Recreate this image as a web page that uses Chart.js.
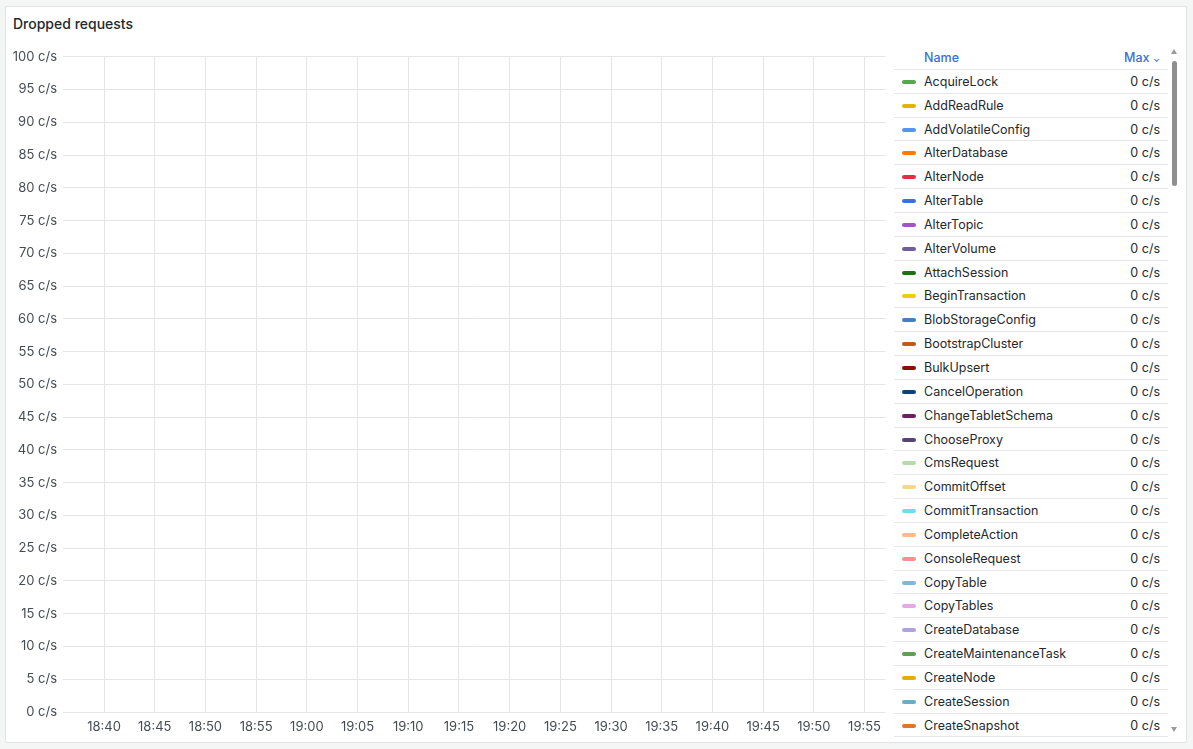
<!DOCTYPE html>
<html>
<head>
<meta charset="utf-8">
<script src="https://cdn.jsdelivr.net/npm/chart.js@4.4.1/dist/chart.umd.min.js"></script>
<style>
  html, body { margin:0; padding:0; background:#f4f5f5; font-family: Inter, "Noto Sans", sans-serif; }
  #panel { position:absolute; left:5px; top:6px; width:1180px; height:735px; background:#fff; border:1px solid #e2e3e6; border-radius:2px; }
  #title { position:absolute; left:7px; top:8px; font-size:14px; font-weight:500; color:#24292e; }
  #chartBox { position:absolute; left:0px; top:36px; width:882px; height:699px; }
  #legend { position:absolute; left:888px; top:39px; width:274px; height:692px; overflow:hidden; font-size:12.5px; color:#24292e; }
  .row { position:relative; height:23.85px; border-bottom:1px solid #e6e7e9; box-sizing:border-box; }
  .row .sw { position:absolute; left:8px; top:10px; width:14px; height:4px; border-radius:2px; }
  .row .nm { position:absolute; left:30px; top:0; line-height:23px; white-space:nowrap; }
  .row .vl { position:absolute; right:8px; top:0; line-height:23px; }
  .hdr { color:#3a6fd8; font-weight:500; }
  #sbThumb { position:absolute; left:1166px; top:54px; width:5px; height:125px; background:#8f8f8f; border-radius:3px; }
  .arrow { position:absolute; left:1165px; width:0; height:0; border-left:3.5px solid transparent; border-right:3.5px solid transparent; }
</style>
</head>
<body>
<div id="panel">
  <div id="title">Dropped requests</div>
  <div id="chartBox"><canvas id="c"></canvas></div>
  <div id="legend"></div>
  <div class="arrow" style="top:42px;border-bottom:5px solid #9a9a9a;"></div>
  <div id="sbThumb"></div>
  <div class="arrow" style="top:720px;border-top:5px solid #9a9a9a;"></div>
</div>
<script>
// ---- data ----
const seriesNames = ["AcquireLock","AddReadRule","AddVolatileConfig","AlterDatabase","AlterNode","AlterTable","AlterTopic","AlterVolume","AttachSession","BeginTransaction","BlobStorageConfig","BootstrapCluster","BulkUpsert","CancelOperation","ChangeTabletSchema","ChooseProxy","CmsRequest","CommitOffset","CommitTransaction","CompleteAction","ConsoleRequest","CopyTable","CopyTables","CreateDatabase","CreateMaintenanceTask","CreateNode","CreateSession","CreateSnapshot"];
const seriesColors = ["#56a64b","#e0b400","#5794f2","#ff780a","#e02f44","#3274d9","#a352cc","#705da0","#19730e","#f2cc0c","#447ebc","#c15c17","#890f02","#0a437c","#6d1f62","#584477","#b7dbab","#f4d598","#70dbed","#f9ba8f","#f29191","#82b5d8","#e5a8e2","#aea2e0","#629e51","#e5ac0e","#64b0c8","#e0752d"];
const seriesMax = [0,0,0,0,0,0,0,0,0,0,0,0,0,0,0,0,0,0,0,0,0,0,0,0,0,0,0,0];
const seriesValues = seriesNames.map(() => []); // no samples drawn in the visible range
const xTickLabels = ["18:40","18:45","18:50","18:55","19:00","19:05","19:10","19:15","19:20","19:25","19:30","19:35","19:40","19:45","19:50","19:55"];
const xRange = ["18:35:57","19:57:04"];
const yMin = 0, yMax = 100, yStep = 5;
const unit = "c/s";

function toMin(s){ const p = s.split(':').map(Number); return p[0]*60 + p[1] + (p[2]||0)/60; }
function fmt(m){ const h = Math.floor(m/60), mm = Math.round(m - h*60); return String(h).padStart(2,'0') + ':' + String(mm).padStart(2,'0'); }

// legend
const lg = document.getElementById('legend');
let html = '<div class="row hdr"><span class="nm">Name</span><span class="vl">Max <span style="font-size:9px">&#8964;</span></span></div>';
seriesNames.forEach((n,i) => {
  html += '<div class="row"><span class="sw" style="background:'+seriesColors[i]+'"></span><span class="nm">'+n+'</span><span class="vl">'+seriesMax[i]+' '+unit+'</span></div>';
});
lg.innerHTML = html;

const tickVals = xTickLabels.map(toMin);
new Chart(document.getElementById('c'), {
  type: 'line',
  data: {
    datasets: seriesNames.map((n,i) => ({ label:n, data: seriesValues[i], borderColor: seriesColors[i], backgroundColor: seriesColors[i], pointRadius:0, borderWidth:1 }))
  },
  options: {
    responsive:true, maintainAspectRatio:false, animation:false,
    layout: { padding: { top: 12, right: 0, left: 0, bottom: 0 } },
    plugins: { legend: { display:false }, tooltip: { enabled:false } },
    scales: {
      x: {
        type:'linear', min: toMin(xRange[0]), max: toMin(xRange[1]),
        afterBuildTicks: s => { s.ticks = tickVals.map(v => ({ value: v })); },
        afterFit: s => { s.height = 30; },
        ticks: { callback: v => fmt(v), color:'#464c54', font:{ family:'Inter', size:13 }, padding:7, maxRotation:0, autoSkip:false },
        grid: { color:'#e4e5e7', drawTicks:false },
        border: { display:false }
      },
      y: {
        min: yMin, max: yMax,
        afterFit: s => { s.width = 57; },
        ticks: { stepSize: yStep, callback: v => v + ' ' + unit, color:'#464c54', font:{ family:'Inter', size:13 }, padding:6 },
        grid: { color:'#e4e5e7', drawTicks:false },
        border: { display:false }
      }
    }
  }
});
</script>
</body>
</html>
